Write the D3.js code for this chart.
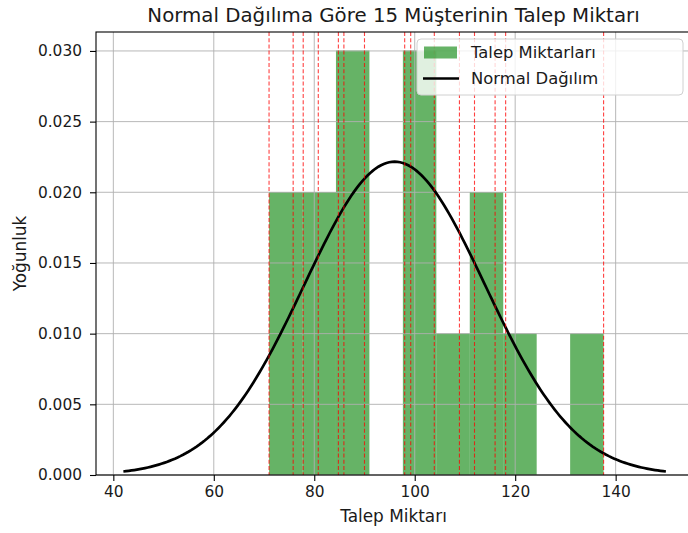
<!DOCTYPE html>
<html>
<head>
<meta charset="utf-8">
<script src="https://cdn.jsdelivr.net/npm/d3@7"></script>
<style>
  body { margin: 0; background: #fff; }
  text { font-family: "DejaVu Sans", sans-serif; fill: #1a1a1a; }
</style>
</head>
<body>
<div id="chart"></div>
<script>
// Demand amounts of the 15 customers
const demands = [71, 75.8, 77.8, 80.8, 84.8, 85.9, 90, 98, 99.2, 103.9, 108.9, 111.9, 116, 118.1, 137.6];
// Fitted normal distribution parameters
const mu = 96;
const sigma = 18;
const curveRange = [42, 150];
const binCount = 10;

const xTicks = [40, 60, 80, 100, 120, 140];
const yTicks = [0, 0.005, 0.010, 0.015, 0.020, 0.025, 0.030];

// Dimensions
const svgWidth = 688, svgHeight = 533;
const plot = { left: 96, right: 691, top: 32, bottom: 475 };

const svg = d3.select('#chart')
  .append('svg')
  .attr('width', svgWidth)
  .attr('height', svgHeight);

// Scales
const x = d3.scaleLinear().domain([36.55, 155.0]).range([plot.left, plot.right]);
const y = d3.scaleLinear().domain([0, 0.03134]).range([plot.bottom, plot.top]);

// Histogram (density)
const [lo, hi] = d3.extent(demands);
const step = (hi - lo) / binCount;
const thresholds = d3.range(1, binCount).map(i => lo + i * step);
const bins = d3.bin().domain([lo, hi]).thresholds(thresholds)(demands);
bins.forEach(b => { b.density = b.length / (demands.length * step); });

svg.append('g')
  .selectAll('rect')
  .data(bins)
  .enter()
  .append('rect')
  .attr('x', d => x(d.x0))
  .attr('width', d => x(d.x1) - x(d.x0))
  .attr('y', d => y(d.density))
  .attr('height', d => y(0) - y(d.density))
  .attr('fill', '#008000')
  .attr('fill-opacity', 0.6);

// Grid
const grid = svg.append('g').attr('stroke', '#b0b0b0').attr('stroke-width', 0.9);
grid.selectAll('.gx').data(xTicks).enter().append('line')
  .attr('x1', d => x(d)).attr('x2', d => x(d))
  .attr('y1', plot.top).attr('y2', plot.bottom);
grid.selectAll('.gy').data(yTicks).enter().append('line')
  .attr('x1', plot.left).attr('x2', plot.right)
  .attr('y1', d => y(d)).attr('y2', d => y(d));

// Normal curve
const pdf = v => Math.exp(-0.5 * ((v - mu) / sigma) ** 2) / (sigma * Math.sqrt(2 * Math.PI));
const xs = d3.range(0, 201).map(i => curveRange[0] + (curveRange[1] - curveRange[0]) * i / 200);
svg.append('path')
  .datum(xs)
  .attr('fill', 'none')
  .attr('stroke', '#000')
  .attr('stroke-width', 2.7)
  .attr('d', d3.line().x(d => x(d)).y(d => y(pdf(d))));

// Red dashed lines at each demand
svg.append('g')
  .selectAll('line')
  .data(demands)
  .enter()
  .append('line')
  .attr('x1', d => x(d)).attr('x2', d => x(d))
  .attr('y1', plot.top).attr('y2', plot.bottom)
  .attr('stroke', '#ff0000')
  .attr('stroke-opacity', 0.75)
  .attr('stroke-width', 1.1)
  .attr('stroke-dasharray', '4,2.2');

// Axes
const xAxis = d3.axisBottom(x).tickValues(xTicks).tickSize(6).tickPadding(5).tickFormat(d3.format('d'));
const yAxis = d3.axisLeft(y).tickValues(yTicks).tickSize(6).tickPadding(8).tickFormat(d3.format('.3f'));

const gx = svg.append('g').attr('transform', `translate(0, ${plot.bottom})`).call(xAxis);
const gy = svg.append('g').attr('transform', `translate(${plot.left}, 0)`).call(yAxis);
[gx, gy].forEach(g => {
  g.select('.domain').remove();
  g.selectAll('line').attr('stroke', '#000').attr('stroke-width', 1.1);
  g.selectAll('text').style('font-size', '15.4px').style('fill', '#1a1a1a');
});

// Spines
svg.append('rect')
  .attr('x', plot.left).attr('y', plot.top)
  .attr('width', plot.right - plot.left).attr('height', plot.bottom - plot.top)
  .attr('fill', 'none').attr('stroke', '#000').attr('stroke-width', 1.1);

// Legend
const legend = svg.append('g');
legend.append('rect')
  .attr('x', 417).attr('y', 39).attr('width', 266).attr('height', 56)
  .attr('rx', 4)
  .attr('fill', '#fff').attr('fill-opacity', 0.8)
  .attr('stroke', '#d0d0d0').attr('stroke-width', 1);
legend.append('rect')
  .attr('x', 424).attr('y', 46.5).attr('width', 33).attr('height', 12)
  .attr('fill', '#008000').attr('fill-opacity', 0.6);
legend.append('line')
  .attr('x1', 423).attr('x2', 459).attr('y1', 78.5).attr('y2', 78.5)
  .attr('stroke', '#000').attr('stroke-width', 2.7);
legend.append('text').attr('x', 471).attr('y', 58).style('font-size', '16.4px').text('Talep Miktarları');
legend.append('text').attr('x', 471).attr('y', 83.5).style('font-size', '16.4px').text('Normal Dağılım');

// Title
svg.append('text')
  .attr('x', (plot.left + plot.right) / 2)
  .attr('y', 22)
  .attr('text-anchor', 'middle')
  .style('font-size', '19.8px')
  .text('Normal Dağılıma Göre 15 Müşterinin Talep Miktarı');

// X axis label
svg.append('text')
  .attr('x', (plot.left + plot.right) / 2)
  .attr('y', 522)
  .attr('text-anchor', 'middle')
  .style('font-size', '16.9px')
  .text('Talep Miktarı');

// Y axis label
svg.append('text')
  .attr('transform', `translate(26, ${(plot.top + plot.bottom) / 2}) rotate(-90)`)
  .attr('text-anchor', 'middle')
  .style('font-size', '16.9px')
  .text('Yoğunluk');
</script>
</body>
</html>
